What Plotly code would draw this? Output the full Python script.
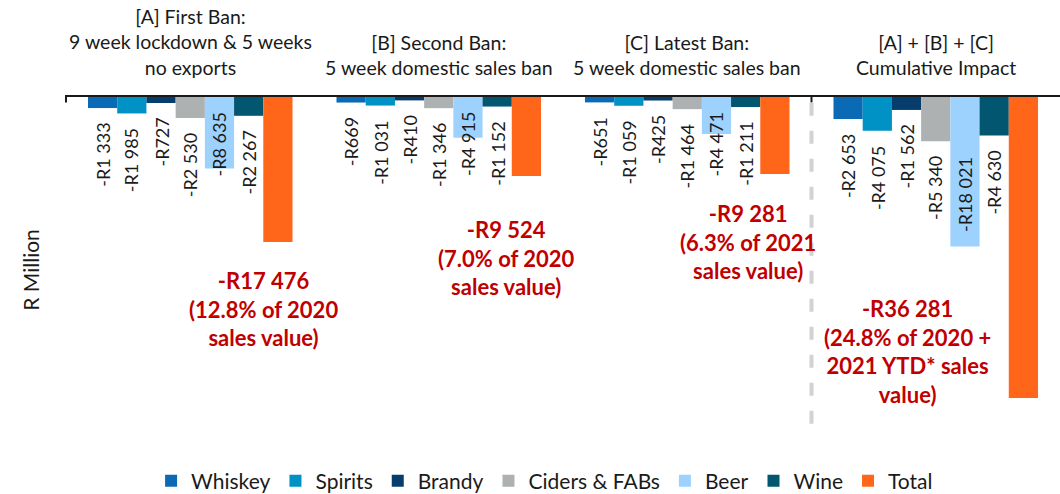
import plotly.graph_objects as go

BANS = ["A", "B", "C", "D"]
BAN_LABELS = [
    "[A] First Ban:<br>9 week lockdown & 5 weeks<br>no exports",
    "[B] Second Ban:<br>5 week domestic sales ban",
    "[C] Latest Ban:<br>5 week domestic sales ban",
    "[A] + [B] + [C]<br>Cumulative Impact",
]

SERIES = ["Whiskey", "Spirits", "Brandy", "Ciders & FABs", "Beer", "Wine", "Total"]
WHISKEY = [-1333, -669, -651, -2653]
SPIRITS = [-1985, -1031, -1059, -4075]
BRANDY = [-727, -410, -425, -1562]
CIDERS = [-2530, -1346, -1464, -5340]
BEER = [-8635, -4915, -4471, -18021]
WINE = [-2267, -1152, -1211, -4630]
TOTAL = [-17476, -9524, -9281, -36281]

TOTAL_NOTES = [
    "-R17 476<br>(12.8% of 2020<br>sales value)",
    "-R9 524<br>(7.0% of 2020<br>sales value)",
    "-R9 281<br>(6.3% of 2021<br>sales value)",
    "-R36 281<br>(24.8% of 2020 +<br>2021 YTD* sales<br>value)",
]

COLOURS = ["#0B6AB5", "#0092C4", "#063D6C", "#AEB1B1", "#9DD2FF", "#03566F", "#FF661A"]
FONT = "Lato"
YMIN = -41600


def rand(v):
    return "-R" + f"{abs(v):,}".replace(",", " ")


values = [WHISKEY, SPIRITS, BRANDY, CIDERS, BEER, WINE, TOTAL]

fig = go.Figure()
for name, vals, colour in zip(SERIES, values, COLOURS):
    fig.add_trace(go.Bar(
        x=BANS, y=vals, name=name,
        marker=dict(color=colour, line=dict(width=0)),
    ))

# data labels: rotated, under each bar (beer labels sit in the bar)
n = len(SERIES)
slot = (1 - 0.177) / n
for si, (name, vals) in enumerate(zip(SERIES, values)):
    if name == "Total":
        continue
    for ci, v in enumerate(vals):
        offset = (si - (n - 1) / 2) * slot
        if name == "Beer" and ci < 3:
            y, anchor, shift = 0, "top", -13
        elif name == "Beer":
            y, anchor, shift = v, "bottom", 13
        else:
            y, anchor, shift = v, "top", -13
        fig.add_annotation(
            x=ci + offset, y=y, xref="x", yref="y", text=rand(v),
            textangle=-90, showarrow=False, yanchor=anchor, yshift=shift,
            font=dict(family=FONT, size=18, color="#1a1a1a"),
        )

# red total notes
note_pos = [(73, -25600), (68, -19400), (61, -17450), (-28, -30700)]
for ci, (note, (dx, y)) in enumerate(zip(TOTAL_NOTES, note_pos)):
    fig.add_annotation(
        x=ci, y=y, xref="x", yref="y", xshift=dx, text=note, showarrow=False,
        font=dict(family=FONT, size=22, color="#C00000", weight="bold"),
    )

# category headings above the axis
for ci, lab in enumerate(BAN_LABELS):
    fig.add_annotation(
        x=ci, y=1, xref="x", yref="paper", yanchor="bottom", yshift=16,
        text=lab, showarrow=False,
        font=dict(family=FONT, size=19.5, color="#1a1a1a"),
    )

fig.add_annotation(
    x=-0.035, y=0.5, xref="paper", yref="paper", text="R Million",
    textangle=-90, showarrow=False, xanchor="center",
    font=dict(family=FONT, size=21, color="#1a1a1a"),
)

# divider before cumulative impact, plus small ticks
fig.add_shape(type="line", x0=2.5, x1=2.5, y0=-700, y1=-40000, xref="x", yref="y",
              line=dict(color="#D2D2D2", width=4, dash="13px,15px"))
for xt in [-0.5, 2.5]:
    fig.add_shape(type="line", x0=xt, x1=xt, y0=0, y1=-650, xref="x", yref="y",
                  line=dict(color="#1a1a1a", width=2))

fig.update_layout(
    width=1060, height=494,
    margin=dict(l=65, r=0, t=97, b=52),
    paper_bgcolor="white", plot_bgcolor="white",
    barmode="group", bargap=0.177, bargroupgap=0,
    showlegend=True,
    legend=dict(
        orientation="h", x=0.482, xanchor="center",
        yref="container", y=0.026, yanchor="middle",
        font=dict(family=FONT, size=21, color="#1a1a1a"),
    ),
    xaxis=dict(
        side="top", showline=True, linecolor="#1a1a1a", linewidth=2,
        showticklabels=False, ticks="", showgrid=False, zeroline=False,
        automargin=False,
    ),
    yaxis=dict(
        range=[YMIN, 0], showticklabels=False, showgrid=False, zeroline=False,
        automargin=False,
    ),
)

# the page body has a default 8px margin; drop it so the figure sits at 0,0
fig.write_html("out.html", config={"displayModeBar": False},
               post_script="document.body.style.margin = '0';")
